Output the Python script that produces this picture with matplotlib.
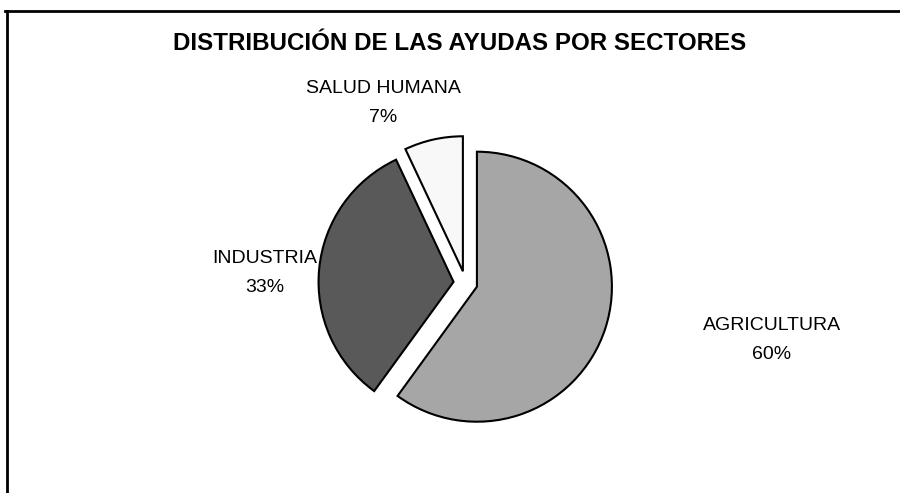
import matplotlib.pyplot as plt
from matplotlib.lines import Line2D

# sectors and their share of the aid
sectores = ["AGRICULTURA", "INDUSTRIA", "SALUD HUMANA"]
porcentajes = [60, 33, 7]
colores = ["#A6A6A6", "#595959", "#F8F8F8"]

plt.rcParams['font.family'] = ['Liberation Sans', 'DejaVu Sans']

fig = plt.figure(figsize=(9, 4.93), dpi=100)
ax = fig.add_axes([0, 0, 1, 1])

# explode is in data units here (axes are in pixels)
ax.pie(porcentajes, colors=colores, startangle=90, counterclock=False,
       explode=[12, 12, 12], center=(465.5, 210), radius=135,
       wedgeprops=dict(edgecolor="black", linewidth=1.5))
ax.set_xlim(0, 900)
ax.set_ylim(0, 493)
ax.set_aspect('equal')
ax.axis('off')

# labels placed outside, like the spreadsheet original
pos_etiquetas = [(772, 153), (265, 220), (383, 390)]
for nombre, pct, (x, y) in zip(sectores, porcentajes, pos_etiquetas):
    ax.text(x, y, f"{nombre}\n{pct}%", ha="center", va="center",
            fontsize=14, linespacing=1.85)

fig.text(460 / 900, 1 - 43 / 493, "DISTRIBUCIÓN DE LAS AYUDAS POR SECTORES",
         ha="center", va="center", fontsize=17.4, fontweight="bold")

# chart frame (only top and left edges visible in the crop)
fig.add_artist(Line2D([5 / 900, 1], [1 - 11 / 493] * 2, color="black", lw=2))
fig.add_artist(Line2D([7 / 900] * 2, [0, 1 - 11 / 493], color="black", lw=2))

fig.savefig("out.png", dpi=100)
